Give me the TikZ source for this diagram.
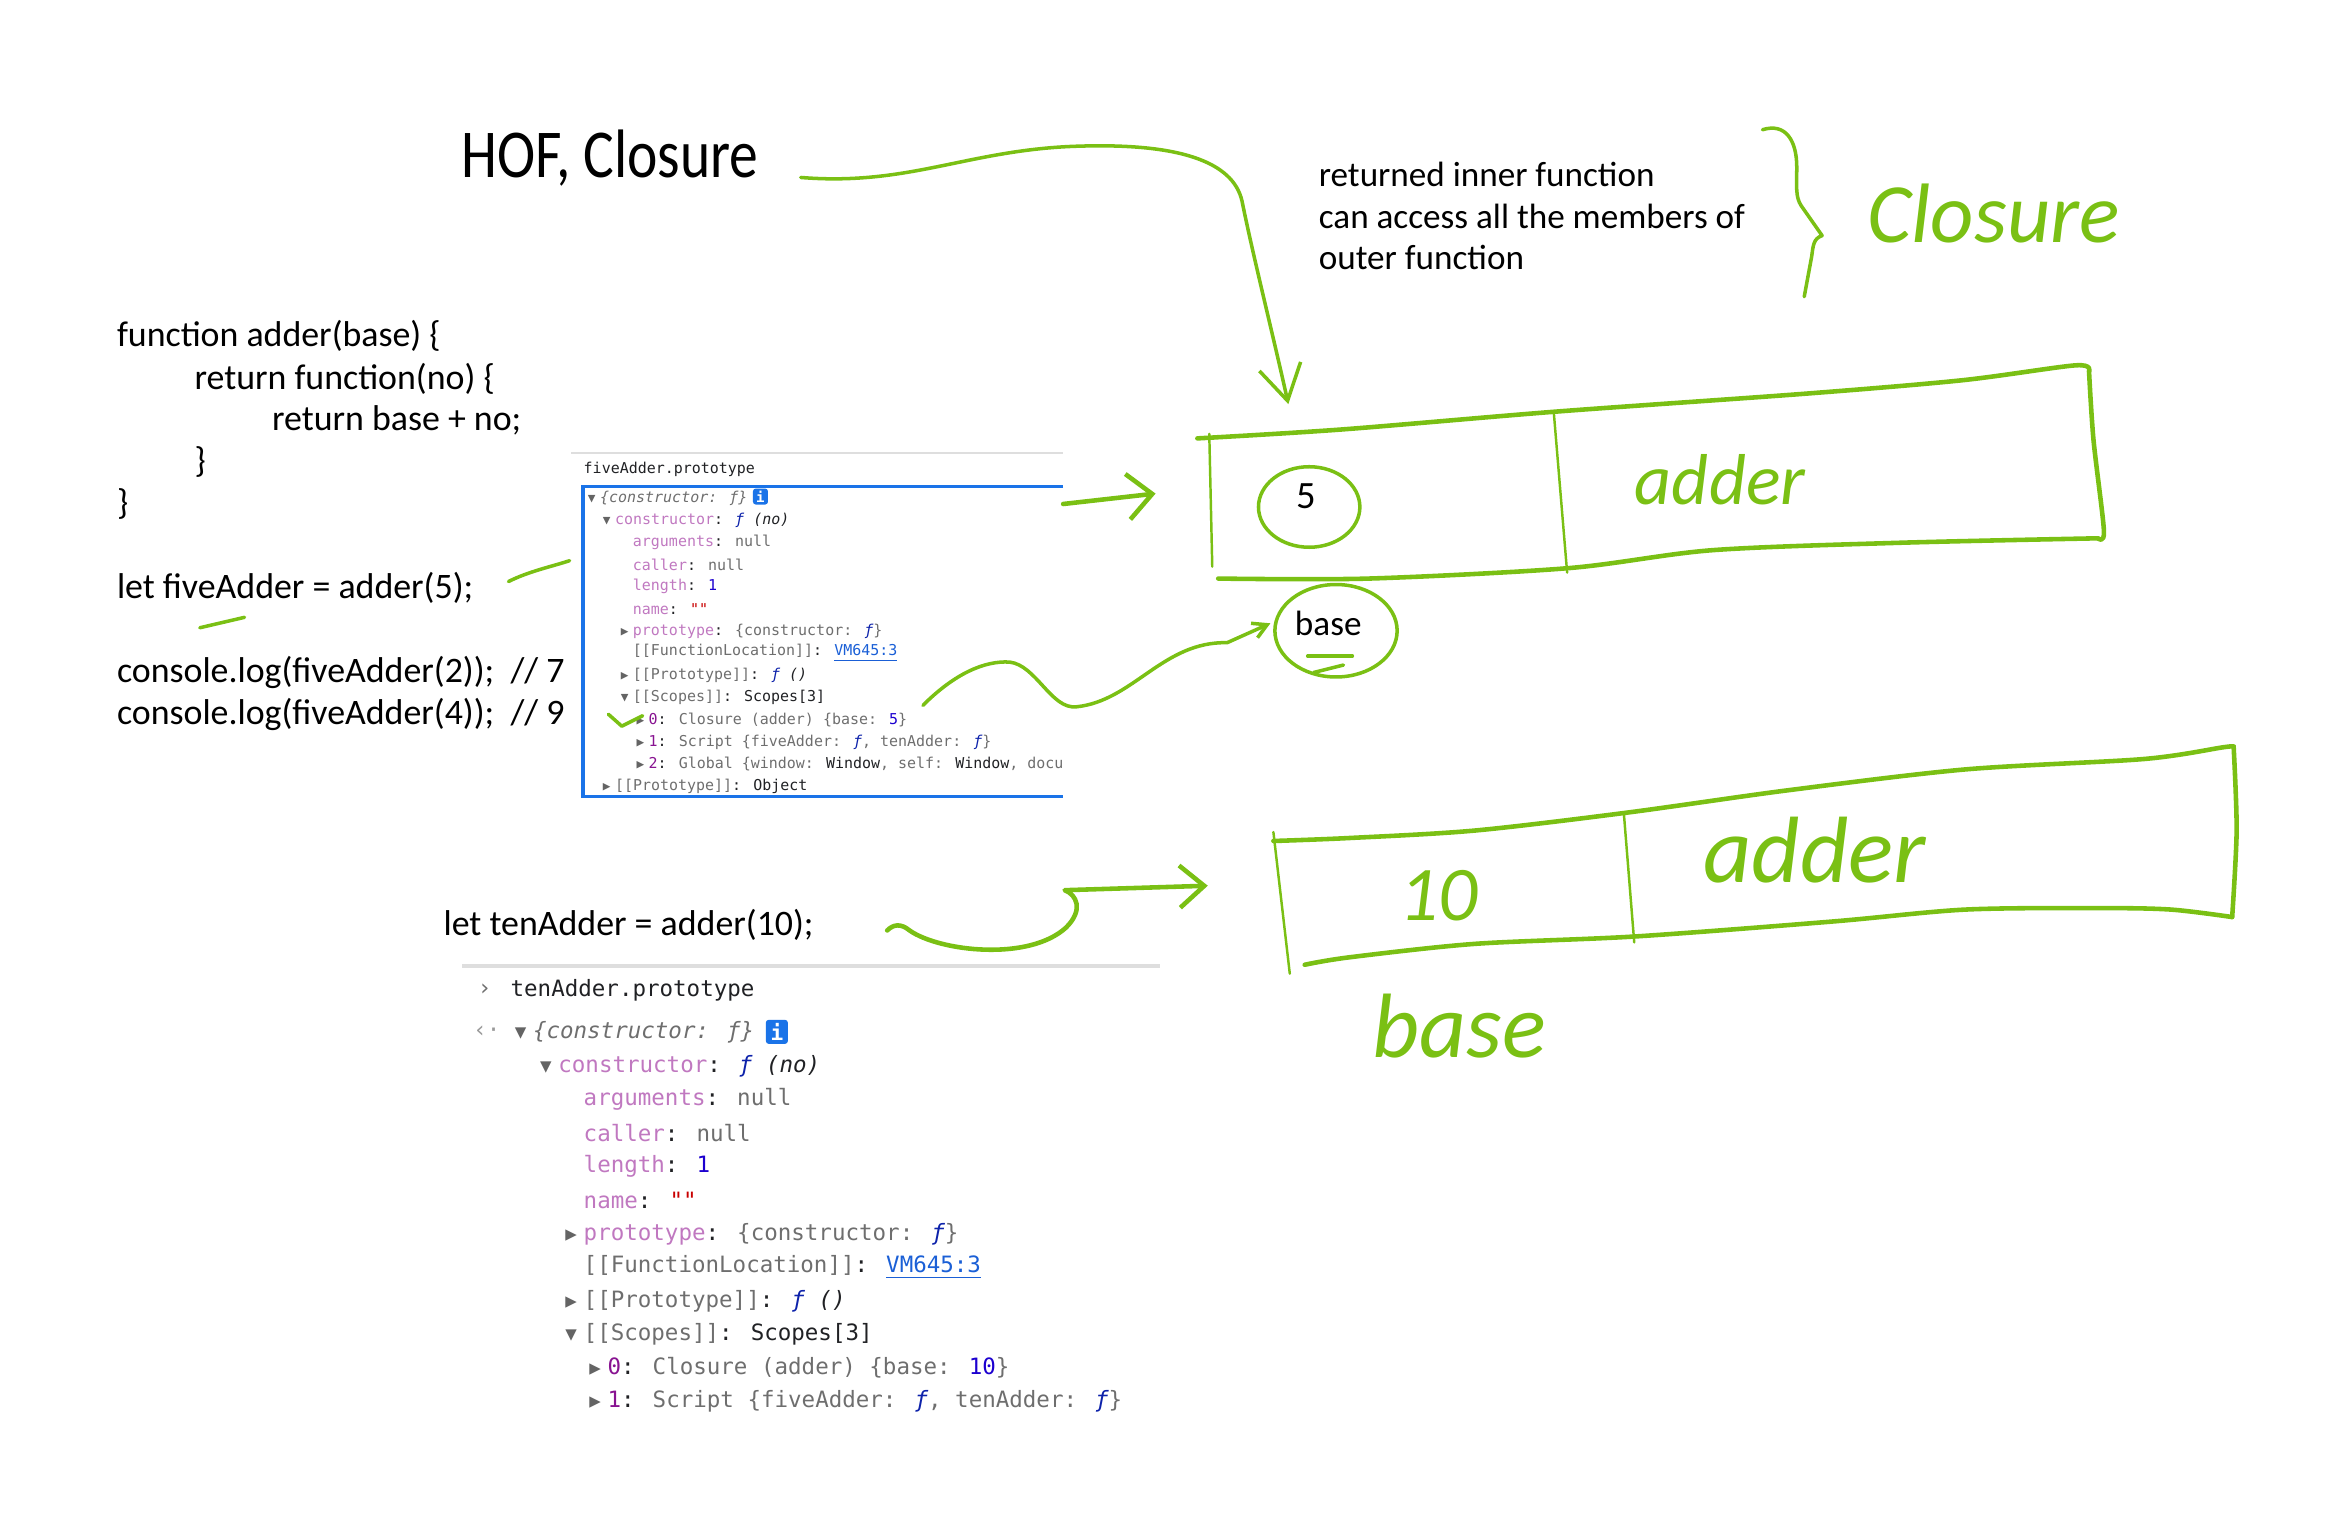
\documentclass[tikz,border=0pt]{standalone}
\usepackage{fontspec}
\usepackage{xcolor}
\usepackage{graphicx}
\usetikzlibrary{arrows.meta, positioning}

\setmainfont{Carlito}
\newfontfamily\titlefont[FakeStretch=0.84]{Carlito}
\newfontfamily\devfont{DejaVu Sans Mono}

\definecolor{penGreen}{RGB}{122,192,20}
\definecolor{devBlue}{RGB}{26,115,232}
\definecolor{devRule}{RGB}{222,222,222}
\definecolor{devText}{RGB}{32,33,36}
\definecolor{keyPurple}{RGB}{192,120,192}
\definecolor{idxPurple}{RGB}{136,19,145}
\definecolor{numBlue}{RGB}{28,0,207}
\definecolor{fnBlue}{RGB}{13,34,170}
\definecolor{valGray}{RGB}{110,110,110}
\definecolor{strRed}{RGB}{200,0,0}
\definecolor{linkBlue}{RGB}{26,95,214}
\definecolor{triGray}{RGB}{100,100,100}

\newcommand{\tOpen}{\llap{\textcolor{triGray}{\scalebox{0.85}{▼}}\kern0.3em}}
\newcommand{\tShut}{\llap{\textcolor{triGray}{\scalebox{0.85}{▶}}\kern0.3em}}
\newcommand{\devf}{\textcolor{fnBlue}{\itshape ƒ}}
\newcommand{\devkey}[1]{\textcolor{keyPurple}{#1}}
\newcommand{\devidx}[1]{\textcolor{idxPurple}{#1}}
\newcommand{\devnum}[1]{\textcolor{numBlue}{#1}}
\newcommand{\devgray}[1]{\textcolor{valGray}{#1}}
\newcommand{\devstr}[1]{\textcolor{strRed}{#1}}
\newcommand{\devlink}[1]{\textcolor{linkBlue}{\underline{#1}}}

\begin{document}
\begin{tikzpicture}[x=0.014911cm, y=-0.014911cm,
  pen/.style={draw=penGreen, line width=1pt, line cap=round, line join=round},
  penBox/.style={pen, line width=1.3pt},
  penThin/.style={pen, line width=0.7pt},
  scrawl/.style={anchor=west, inner sep=0pt, text=penGreen},
  code/.style={anchor=west, inner sep=0pt, font=\fontsize{10.2}{12}\selectfont},
  note/.style={anchor=west, inner sep=0pt, font=\fontsize{10}{12}\selectfont},
  devS/.style={anchor=west, inner sep=0pt, text=devText, font=\devfont\fontsize{4.26}{5}\selectfont},
  devL/.style={anchor=west, inner sep=0pt, text=devText, font=\devfont\fontsize{6.4}{8}\selectfont},
  infoBox/.style={fill=devBlue, text=white, rounded corners=0.8pt, inner sep=0pt, font=\devfont\bfseries}]
\useasboundingbox (0,0) rectangle (1568,1018);

% Title and the note on closures.
\node[anchor=west, inner sep=0pt, font=\titlefont\fontsize{19.5}{22}\selectfont] (title) at (309,106) {HOF, Closure};
\node[note] (n1) at (884,117) {returned inner function};
\node[note] (n2) at (884,145) {can access all the members of};
\node[note] (n3) at (884,173) {outer function};
\node[scrawl, font=\itshape\fontsize{24}{28}\selectfont] (closureWord) at (1252,143) {Closure};

% Source code.
\node[code] (c1) at (78,225) {function adder(base) \{};
\node[code] (c2) at (130,254) {return function(no) \{};
\node[code] (c3) at (182,282) {return base + no;};
\node[code] (c4) at (130,310) {\}};
\node[code] (c5) at (78,338) {\}};
\node[code] (c6) at (78,394) {let fiveAdder = adder(5);};
\node[code] (c7) at (78,451) {console.log(fiveAdder(2));~ // 7};
\node[code] (c8) at (78,479) {console.log(fiveAdder(4));~ // 9};
\node[code] (c9) at (297,620) {let tenAdder = adder(10);};

% fiveAdder.prototype, small console panel.
\draw[devRule, line width=0.5pt] (383,304) -- (713,304);
\node[devS] (f0) at (391,315) {fiveAdder.prototype};
\draw[devBlue, line width=0.9pt] (713,326) -- (391,326) -- (391,534) -- (713,534);
\begin{scope}
\clip (385,320) rectangle (713,540);
\node[devS] (f1) at (402,334) {\tOpen\devgray{\itshape\{constructor: ƒ\}}};
\node[infoBox, minimum width=0.15cm, minimum height=0.16cm, font=\devfont\bfseries\fontsize{4}{4}\selectfont] (infoA) at (510,333) {i};
\node[devS] (f2) at (412,349) {\tOpen\devkey{constructor}: \devf{} {\itshape (no)}};
\node[devS] (f3) at (424,363.6) {\devkey{arguments}: \devgray{null}};
\node[devS] (f4) at (424,378.5) {\devkey{caller}: \devgray{null}};
\node[devS] (f5) at (424,393.4) {\devkey{length}: \devnum{1}};
\node[devS] (f6) at (424,408.3) {\devkey{name}: \devstr{""}};
\node[devS] (f7) at (424,423.2) {\tShut\devkey{prototype}: \devgray{\{constructor: }\devf\devgray{\}}};
\node[devS] (f8) at (424,438.1) {\devgray{[[FunctionLocation]]}: \devlink{VM645:3}};
\node[devS] (f9) at (424,453) {\tShut\devgray{[[Prototype]]}: \devf{} {\itshape ()}};
\node[devS] (f10) at (424,467.9) {\tOpen\devgray{[[Scopes]]}: Scopes[3]};
\node[devS] (f11) at (434.6,482.8) {\tShut\devidx{0}: \devgray{Closure (adder) \{base: }\devnum{5}\devgray{\}}};
\node[devS] (f12) at (434.6,497.7) {\tShut\devidx{1}: \devgray{Script \{fiveAdder: }\devf\devgray{, tenAdder: }\devf\devgray{\}}};
\node[devS] (f13) at (434.6,512.6) {\tShut\devidx{2}: \devgray{Global \{window: }Window\devgray{, self: }Window\devgray{, document: }document};
\node[devS] (f14) at (412,527.5) {\tShut\devgray{[[Prototype]]}: Object};
\end{scope}

% tenAdder.prototype, large console panel.
\draw[devRule, line width=1pt] (310,648) -- (778,648);
\node[devL, text=valGray] (t0p) at (320,664) {›};
\node[devL] (t0) at (342,664) {tenAdder.prototype};
\node[devL, text=valGray!70] (t1p) at (317,692) {‹·};
\node[devL] (t1) at (357,692) {\tOpen\devgray{\itshape\{constructor: ƒ\}}};
\node[infoBox, minimum width=0.22cm, minimum height=0.24cm, font=\devfont\bfseries\fontsize{6}{6}\selectfont] (infoB) at (521,692) {i};
\node[devL] (t2) at (374,715) {\tOpen\devkey{constructor}: \devf{} {\itshape (no)}};
\node[devL] (t3) at (391,737.5) {\devkey{arguments}: \devgray{null}};
\node[devL] (t4) at (391,760) {\devkey{caller}: \devgray{null}};
\node[devL] (t5) at (391,782.5) {\devkey{length}: \devnum{1}};
\node[devL] (t6) at (391,805) {\devkey{name}: \devstr{""}};
\node[devL] (t7) at (391,827.5) {\tShut\devkey{prototype}: \devgray{\{constructor: }\devf\devgray{\}}};
\node[devL] (t8) at (391,850) {\devgray{[[FunctionLocation]]}: \devlink{VM645:3}};
\node[devL] (t9) at (391,872.5) {\tShut\devgray{[[Prototype]]}: \devf{} {\itshape ()}};
\node[devL] (t10) at (391,895) {\tOpen\devgray{[[Scopes]]}: Scopes[3]};
\node[devL] (t11) at (407,917.5) {\tShut\devidx{0}: \devgray{Closure (adder) \{base: }\devnum{10}\devgray{\}}};
\node[devL] (t12) at (407,940) {\tShut\devidx{1}: \devgray{Script \{fiveAdder: }\devf\devgray{, tenAdder: }\devf\devgray{\}}};

% First closure box: base = 5, function adder.
\draw[penBox] plot[smooth, tension=0.5] coordinates {(803,294) (900,288) (1044,276) (1211,264) (1316,255) (1392,245) (1401,249)};
\draw[penBox] plot[smooth, tension=0.5] coordinates {(1401,249) (1404,295) (1411,356) (1407,361)};
\draw[penBox] plot[smooth, tension=0.5] coordinates {(1407,361) (1274,364) (1148,369) (1052,381) (918,388) (817,388)};
\draw[penThin] (811,291) -- (813,380);
\draw[penThin] (1042,276) -- (1051,384);
\node[code, font=\fontsize{11}{12}\selectfont] (fiveVal) at (869,333) {5};
\draw[pen] (878,340) ellipse [x radius=34, y radius=27];
\node[scrawl, font=\itshape\fontsize{20.5}{24}\selectfont] (adderA) at (1096,322) {adder};
\node[code, font=\fontsize{10}{12}\selectfont] (baseLbl) at (868,418) {base};
\draw[pen] (896,423) ellipse [x radius=41, y radius=31];
\draw[pen] (877,440) -- (907,440);
\draw[pen] (881,451) -- (901,446);

% Second closure box: base = 10, function adder.
\draw[penBox] plot[smooth, tension=0.5] coordinates {(854,564) (905,562) (989,557) (1091,545) (1199,530) (1318,516) (1438,509) (1492,501) (1498,501)};
\draw[penBox] plot[smooth, tension=0.5] coordinates {(1498,501) (1500,557) (1497,615)};
\draw[penBox] plot[smooth, tension=0.5] coordinates {(1497,615) (1456,610) (1408,609) (1318,610) (1229,618) (1097,628) (989,633) (905,642) (875,647)};
\draw[penThin] (854,558) -- (865,653);
\draw[penThin] (1089,545) -- (1096,632);
\node[scrawl, font=\itshape\fontsize{22}{24}\selectfont] (tenVal) at (938,601) {10};
\node[scrawl, font=\itshape\fontsize{26.8}{30}\selectfont] (adderB) at (1142,570) {adder};
\node[scrawl, font=\itshape\fontsize{26}{30}\selectfont] (baseB) at (920,688) {base};

% Brace around the note.
\draw[pen] (1182,87) .. controls (1198,82) and (1205,95) .. (1205,112)
  .. controls (1205,125) and (1204,132) .. (1208,138) -- (1222,158)
  .. controls (1216,160) and (1216,165) .. (1215,172) -- (1210,199);

% Marks on the code and the panel.
\draw[pen] (134,421) -- (164,414);
\draw[pen] (341,390) .. controls (355,383) and (370,380) .. (382,376);
\draw[pen] (408,479) -- (417,487) -- (431,480);

% Arrows.
\coordinate (titleTail) at (537,119);
\coordinate (titleTip) at (864,271);
\draw[pen, -{Straight Barb[length=10pt,width=12pt]}] (titleTail)
  .. controls (610,125) and (650,100) .. (724,98)
  .. controls (790,96) and (827,108) .. (833,135)
  .. controls (840,170) and (855,230) .. (titleTip);
\coordinate (panelTail) at (713,338);
\coordinate (panelTip) at (775,331);
\draw[penBox, -{Straight Barb[length=7pt,width=13pt]}] (panelTail) -- (panelTip);
\coordinate (scopeTail) at (619,473);
\draw[pen, -{Straight Barb[length=4pt,width=4.5pt]}] (scopeTail)
  .. controls (640,452) and (660,443) .. (677,444)
  .. controls (695,446) and (705,476) .. (722,474)
  .. controls (760,470) and (780,430) .. (823,431) -- (baseLbl.west -| 852,432);
\coordinate (tenTail) at (595,624);
\coordinate (tenTip) at (810,594);
\draw[penBox, -{Straight Barb[length=7pt,width=12pt]}] (tenTail)
  .. controls (599,620) and (604,619) .. (610,624)
  .. controls (630,638) and (690,645) .. (715,622)
  .. controls (727,610) and (722,600) .. (714,597) -- (tenTip);
\end{tikzpicture}
\end{document}
